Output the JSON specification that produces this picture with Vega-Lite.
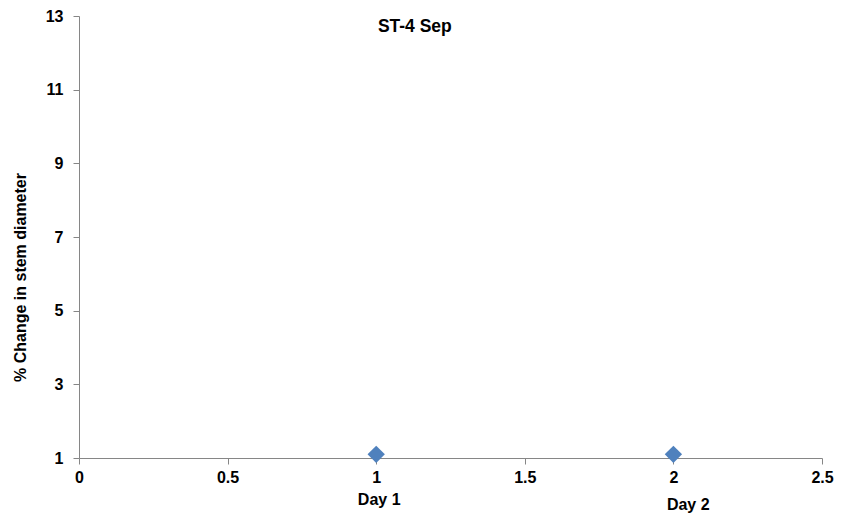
{
  "$schema": "https://vega.github.io/schema/vega-lite/v6.json",
  "width": 743,
  "height": 442,
  "autosize": {"type": "none"},
  "padding": {"left": 79, "top": 16, "right": 25, "bottom": 62},
  "background": "white",
  "config": {
    "view": {"stroke": null},
    "font": "Liberation Sans",
    "axis": {
      "grid": false,
      "domainColor": "#868686",
      "tickColor": "#868686",
      "tickSize": 6,
      "labelFont": "Liberation Sans",
      "labelFontWeight": "bold",
      "labelFontSize": 16,
      "labelColor": "#000000",
      "titleFont": "Liberation Sans",
      "titleFontWeight": "bold",
      "titleFontSize": 16,
      "titleColor": "#000000"
    }
  },
  "datasets": {
    "points": [
      {"day": 1, "change": 1.1},
      {"day": 2, "change": 1.1}
    ],
    "labels": [
      {"x": 1.01, "y": -0.14, "label": "Day 1", "size": 16},
      {"x": 2.05, "y": -0.28, "label": "Day 2", "size": 16},
      {"x": 1.13, "y": 12.7, "label": "ST-4 Sep", "size": 17.5}
    ]
  },
  "layer": [
    {
      "data": {"name": "points"},
      "mark": {"type": "point", "shape": "diamond", "filled": true, "size": 300, "color": "#4F81BD", "opacity": 1},
      "encoding": {
        "x": {
          "field": "day", "type": "quantitative",
          "scale": {"domain": [0, 2.5], "nice": false, "zero": false},
          "axis": {"values": [0, 0.5, 1, 1.5, 2, 2.5], "title": null, "labelPadding": 5, "labelFlush": false, "format": "~g"}
        },
        "y": {
          "field": "change", "type": "quantitative",
          "scale": {"domain": [1, 13], "nice": false, "zero": false},
          "axis": {"values": [1, 3, 5, 7, 9, 11, 13], "title": "% Change in stem diameter", "labelPadding": 10, "titleY": 261, "titleX": -51, "titleAnchor": null}
        }
      }
    },
    {
      "data": {"name": "labels"},
      "mark": {"type": "text", "font": "Liberation Sans", "fontWeight": "bold", "color": "#000000", "baseline": "middle", "align": "center", "clip": false},
      "encoding": {
        "x": {"field": "x", "type": "quantitative"},
        "y": {"field": "y", "type": "quantitative"},
        "text": {"field": "label"},
        "size": {"field": "size", "type": "quantitative", "scale": null, "legend": null}
      }
    }
  ]
}
